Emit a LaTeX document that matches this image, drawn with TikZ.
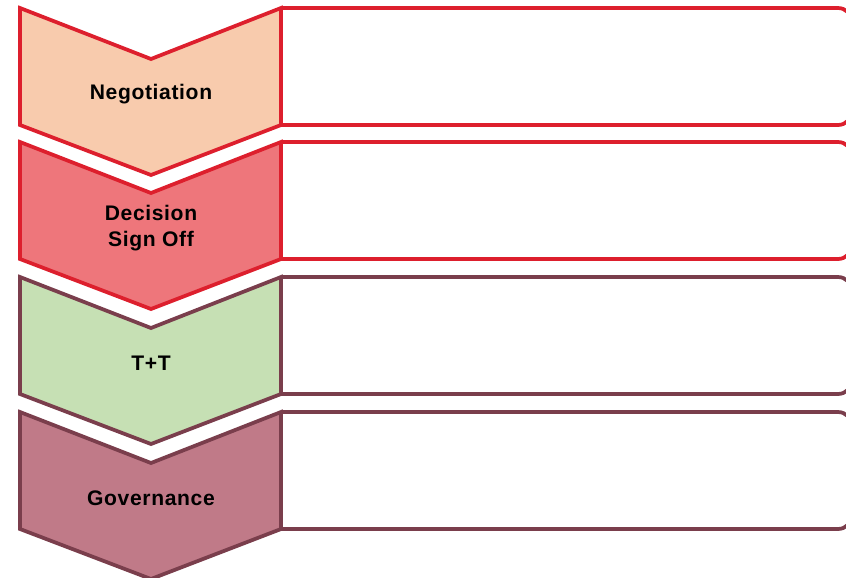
\documentclass[tikz,border=0pt]{standalone}
\usepackage{fontspec}
\setmainfont{Liberation Sans}[LetterSpace=3]
\usetikzlibrary{positioning}
\definecolor{redline}{RGB}{221,31,45}
\definecolor{plumline}{RGB}{122,62,76}
\definecolor{peach}{RGB}{248,203,173}
\definecolor{rose}{RGB}{238,118,123}
\definecolor{sage}{RGB}{198,224,180}
\definecolor{mauve}{RGB}{192,122,136}

\begin{document}
\begin{tikzpicture}[x=0.03cm,y=-0.03cm,line width=3.2pt,
  stagetext/.style={font=\fontsize{18}{22}\selectfont\bfseries,align=center,text=black}]
\useasboundingbox (0,0) rectangle (846,577);
\clip (0,0) rectangle (846,577);
% stages: top edge / fill / line / name / text
\foreach \t/\fc/\lc/\nm/\txt in {8/peach/redline/nego/Negotiation,
    142/rose/redline/sign/{Decision\\Sign Off},
    277/sage/plumline/tt/T+T,
    412/mauve/plumline/gov/Governance} {
  \draw[\lc,rounded corners=12] (281,\t) -- (852,\t) -- (852,\t+117) -- (281,\t+117);
  \draw[\lc,fill=\fc] (20,\t) -- (151,\t+51) -- (281,\t) -- (281,\t+117)
    -- (151,\t+167) -- (20,\t+117) -- cycle;
  \node[stagetext] (\nm) at (151,\t+86) {\txt};
}
\end{tikzpicture}
\end{document}
